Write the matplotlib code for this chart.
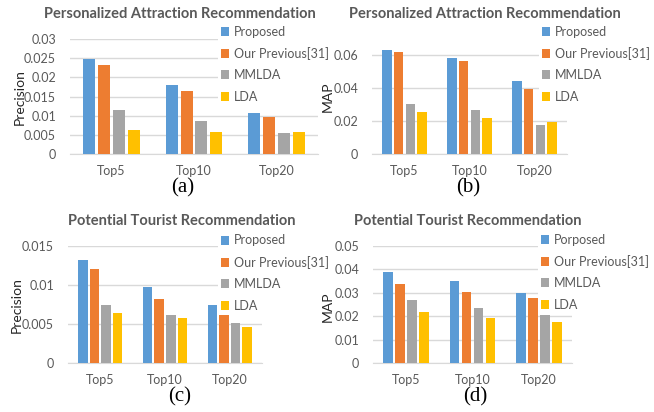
import matplotlib.pyplot as plt
import numpy as np

plt.rcParams['font.family'] = ['Lato', 'DejaVu Sans']

categories = ['Top5', 'Top10', 'Top20']
methods = ['Proposed', 'Our Previous[31]', 'MMLDA', 'LDA']
methods_d = ['Porposed', 'Our Previous[31]', 'MMLDA', 'LDA']
colors = ['#5B9BD5', '#ED7D31', '#A5A5A5', '#FFC000']

# (a) precision, attraction recommendation
prec_attr = [
    [0.0248, 0.0179, 0.0107],   # Proposed
    [0.0233, 0.0165, 0.0097],   # Our Previous
    [0.0116, 0.0086, 0.0054],   # MMLDA
    [0.0063, 0.0057, 0.0057],   # LDA
]
# (b) MAP, attraction recommendation
map_attr = [
    [0.0636, 0.0585, 0.0447],
    [0.0619, 0.0569, 0.0396],
    [0.0305, 0.0268, 0.0175],
    [0.0258, 0.0217, 0.0197],
]
# (c) precision, tourist recommendation
prec_tour = [
    [0.0132, 0.0097, 0.0074],
    [0.0120, 0.0082, 0.0062],
    [0.0075, 0.0061, 0.0051],
    [0.0064, 0.0058, 0.0046],
]
# (d) MAP, tourist recommendation
map_tour = [
    [0.0391, 0.0349, 0.0300],
    [0.0338, 0.0304, 0.0278],
    [0.0268, 0.0237, 0.0205],
    [0.0219, 0.0193, 0.0175],
]

W, H = 654, 412
fig = plt.figure(figsize=(W / 100, H / 100), dpi=100)

def px(x0, y0, x1, y1):
    return [x0 / W, 1 - y1 / H, (x1 - x0) / W, (y1 - y0) / H]

panels = [
    # rect, data, ymax, yticks, ticklabels, ylabel, title, title pos, ylabel pos, legend pos, label, label pos, names
    (px(70, 39, 318, 154), prec_attr, 0.03, [0, 0.005, 0.01, 0.015, 0.02, 0.025, 0.03],
     ['0', '0.005', '0.01', '0.015', '0.02', '0.025', '0.03'], 'Precision',
     'Personalized Attraction Recommendation', (180, 14), (20, 97), (218, 23), '(a)', (183, 188), methods),
    (px(372, 39, 567, 154), map_attr, 0.07, [0, 0.02, 0.04, 0.06],
     ['0', '0.02', '0.04', '0.06'], 'MAP',
     'Personalized Attraction Recommendation', (485, 14), (328, 97), (539, 23), '(b)', (468, 188), methods),
    (px(68, 246, 262, 363), prec_tour, 0.015, [0, 0.005, 0.01, 0.015],
     ['0', '0.005', '0.01', '0.015'], 'Precision',
     'Potential Tourist Recommendation', (182, 221), (17, 305), (218, 232), '(c)', (180, 397), methods),
    (px(373, 246, 572, 363), map_tour, 0.05, [0, 0.01, 0.02, 0.03, 0.04, 0.05],
     ['0', '0.01', '0.02', '0.03', '0.04', '0.05'], 'MAP',
     'Potential Tourist Recommendation', (468, 221), (328, 307), (538, 231), '(d)', (475, 397), methods_d),
]

x = np.arange(len(categories))
bw = 0.145
step = 0.18

for rect, data, ymax, yt, ytl, ylab, title, tpos, ylpos, lpos, lab, labpos, names in panels:
    ax = fig.add_axes(rect)
    for i, vals in enumerate(data):
        ax.bar(x + (i - 1.5) * step, vals, width=bw, color=colors[i], label=names[i], zorder=3)
    ax.set_xlim(-0.5, 2.5)
    ax.set_ylim(0, ymax)
    ax.set_yticks(yt)
    ax.set_yticklabels(ytl)
    ax.set_xticks(x)
    ax.set_xticklabels(categories)
    ax.tick_params(length=0, labelsize=9, colors='#595959', pad=10)
    ax.tick_params(axis='x', pad=8)
    ax.yaxis.grid(True, color='#D9D9D9', linewidth=1, zorder=0)
    for s in ax.spines.values():
        s.set_visible(False)
    ax.spines['bottom'].set_visible(True)
    ax.spines['bottom'].set_color('#D9D9D9')

    leg = fig.legend(*ax.get_legend_handles_labels(), loc='upper left',
                     bbox_to_anchor=(lpos[0] / W, 1 - lpos[1] / H),
                     frameon=True, facecolor='white', edgecolor='none', framealpha=1,
                     fontsize=9, handlelength=0.7, handleheight=0.7, handletextpad=0.4,
                     labelspacing=0.75, borderpad=0.2, borderaxespad=0)
    for t in leg.get_texts():
        t.set_color('#595959')

    fig.text(tpos[0] / W, 1 - tpos[1] / H, title, ha='center', va='center',
             fontsize=10.5, fontweight='bold', color='#595959', zorder=10)
    fig.text(ylpos[0] / W, 1 - ylpos[1] / H, ylab, ha='center', va='center',
             rotation=90, fontsize=10, color='#262626', zorder=10)
    fig.text(labpos[0] / W, 1 - labpos[1] / H, lab, ha='center', va='center',
             fontsize=15, family='Liberation Serif', color='black', zorder=10)

fig.savefig('out.png', dpi=100)
